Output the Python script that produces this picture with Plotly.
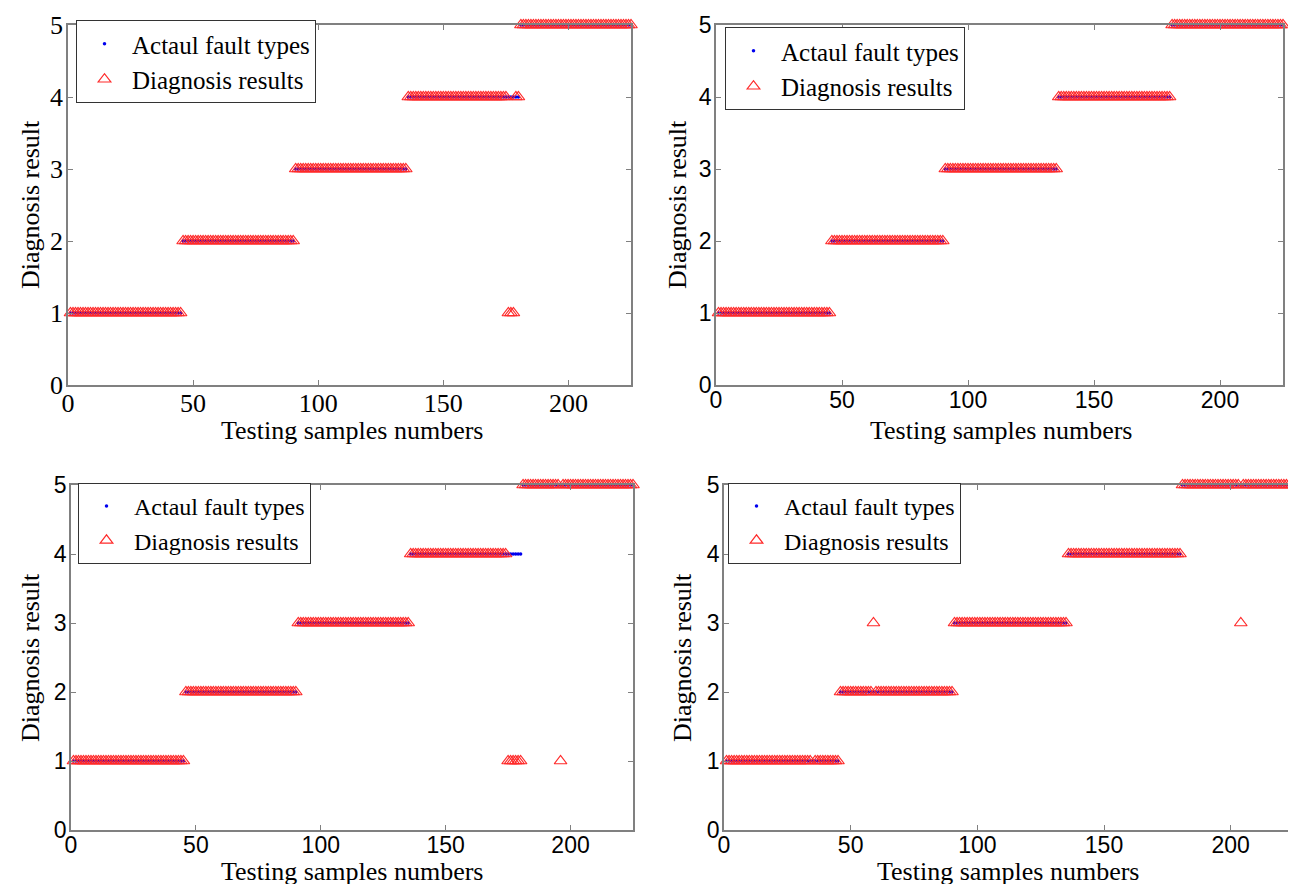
import plotly.graph_objects as go

# ---------------- data ----------------
samples = list(range(1, 226))
actual = [1] * 45 + [2] * 45 + [3] * 45 + [4] * 45 + [5] * 45

# misclassified samples per panel: {sample: predicted}
errors_a = {176: 1, 177: 1, 178: 1}
errors_b = {}
errors_c = {175: 1, 176: 1, 177: 1, 178: 1, 179: 1, 180: 1, 196: 1}
errors_d = {35: None, 59: 3, 204: 3}

x_ticks = [0, 50, 100, 150, 200]
y_ticks = [0, 1, 2, 3, 4, 5]
legend_names = ["Actaul fault types", "Diagnosis results"]
x_title = "Testing samples numbers"
y_title = "Diagnosis result"


def predicted(errors):
    return [errors.get(s, a) if s in errors else a for s, a in zip(samples, actual)]


panels = [
    # errors, x-domain px, y-domain px (top, bottom), tick font, size, legend (x, y),
    # x-title centre, y-title centre
    (errors_a, (60, 623), (17, 377), "Liberation Serif", 26, (68, 12), (344, 422), (22, 197)),
    (errors_b, (708, 1275), (17, 377), "Liberation Sans", 23, (717, 19), (993, 422), (669, 197)),
    (errors_c, (63, 625), (477, 822), "Liberation Sans", 23, (70, 475), (344, 863), (22, 650)),
    (errors_d, (716, 1286), (477, 822), "Liberation Sans", 23, (720, 475), (1000, 863), (674, 650)),
]

W, H = 1296, 884
fig = go.Figure()
layout = dict(
    width=W, height=H, margin=dict(l=0, r=0, t=0, b=0),
    paper_bgcolor="white", plot_bgcolor="white", showlegend=True,
)
annotations = []

for i, (errs, (x0, x1), (yt, yb), tfont, tsize, (lx, ly), (xtx, xty), (ytx, yty)) in enumerate(panels):
    n = "" if i == 0 else str(i + 1)
    xa, ya = "x" + n, "y" + n
    leg = "legend" + n
    fig.add_trace(go.Scatter(
        x=samples, y=actual, mode="markers", name=legend_names[0],
        marker=dict(symbol="circle", size=3.5, color="#0000ee"),
        xaxis=xa, yaxis=ya, legend=leg, cliponaxis=False,
    ))
    fig.add_trace(go.Scatter(
        x=samples, y=predicted(errs), mode="markers", name=legend_names[1],
        marker=dict(symbol="triangle-up-open", size=11, color="#ff2a2a",
                    line=dict(width=1.2, color="#ff2a2a")),
        xaxis=xa, yaxis=ya, legend=leg, cliponaxis=False,
    ))
    axis_common = dict(
        showline=True, linecolor="#808080", linewidth=1.5, mirror="ticks",
        ticks="inside", ticklen=5, tickcolor="#808080", showgrid=False,
        zeroline=False, automargin=False,
        tickfont=dict(family=tfont, size=tsize, color="black"),
    )
    layout["xaxis" + n] = dict(
        axis_common, domain=[x0 / W, x1 / W], range=[0, 225],
        tickvals=x_ticks, anchor=ya, ticklabelstandoff=-6,
    )
    layout["yaxis" + n] = dict(
        axis_common, domain=[1 - yb / H, 1 - yt / H], range=[0, 5],
        tickvals=y_ticks, anchor=xa, ticklabelstandoff=-2,
    )
    layout[leg] = dict(
        x=lx / W, y=1 - ly / H, xanchor="left", yanchor="top",
        bordercolor="#333333", borderwidth=1, bgcolor="white",
        font=dict(family="Liberation Serif", size=25 if i < 2 else 24, color="black"),
        itemsizing="trace", tracegroupgap=0, itemwidth=45,
    )
    annotations.append(dict(
        text=x_title, x=xtx / W, y=1 - xty / H, xref="paper", yref="paper",
        xanchor="center", yanchor="middle", showarrow=False,
        font=dict(family="Liberation Serif", size=26, color="black"),
    ))
    annotations.append(dict(
        text=y_title, x=ytx / W, y=1 - yty / H, xref="paper", yref="paper",
        xanchor="center", yanchor="middle", showarrow=False, textangle=-90,
        font=dict(family="Liberation Serif", size=26, color="black"),
    ))

layout["annotations"] = annotations
fig.update_layout(**layout)
fig.write_html("out.html")
